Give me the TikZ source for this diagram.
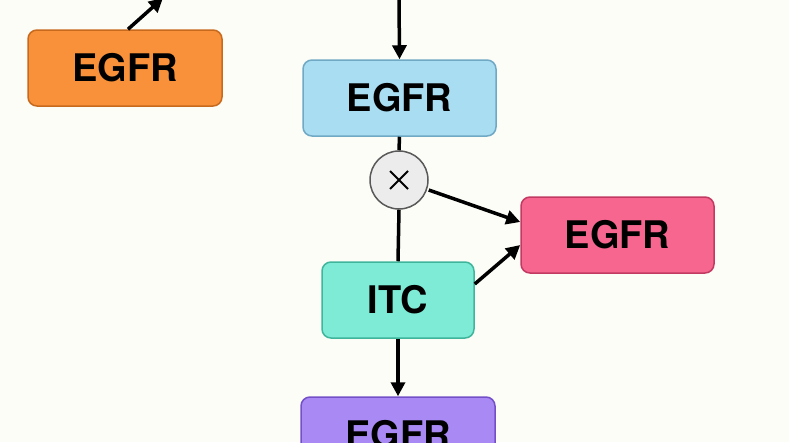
\documentclass[tikz,border=0pt]{standalone}
\usepackage{fontspec}
\setmainfont{TeX Gyre Heros}
\usetikzlibrary{arrows.meta}
\definecolor{bg}{HTML}{FDFDF8}
\definecolor{orf}{HTML}{F8913A}\definecolor{ord}{HTML}{C86A1E}
\definecolor{blf}{HTML}{A9DDF2}\definecolor{bld}{HTML}{6FA9C4}
\definecolor{grf}{HTML}{7EEBD6}\definecolor{grd}{HTML}{3FB59C}
\definecolor{pkf}{HTML}{F7668F}\definecolor{pkd}{HTML}{C23A62}
\definecolor{puf}{HTML}{A98AF5}\definecolor{pud}{HTML}{7350C8}
\begin{document}
\begin{tikzpicture}[x=1pt,y=-1pt,
 box/.style={rounded corners=9pt,line width=1.5pt,inner sep=0pt,font=\fontsize{38}{40}\selectfont\bfseries},
 arr/.style={line width=3.5pt,-{Triangle[length=14pt,width=14pt]}},
 ln/.style={line width=3.5pt}]
\fill[bg] (0,0) rectangle (789,442);
\useasboundingbox (0,0) rectangle (789,442);
\node[box,fill=orf,draw=ord,minimum width=194pt,minimum height=76pt] (o) at (125,68) {EGFR};
\node[box,fill=blf,draw=bld,minimum width=193pt,minimum height=76pt] (b) at (399.5,98) {EGFR};
\node[circle,fill=gray!15,draw=gray!70!black,line width=1.5pt,minimum size=58pt,inner sep=0pt] (x) at (399,180) {};
\draw[line width=2pt] ([shift={(-9,9)}]x.center) -- ([shift={(9,-9)}]x.center)
  ([shift={(-9,-9)}]x.center) -- ([shift={(9,9)}]x.center);
\node[box,fill=pkf,draw=pkd,minimum width=193pt,minimum height=76pt] (p) at (617.5,235) {EGFR};
\node[box,fill=grf,draw=grd,minimum width=152pt,minimum height=76pt] (i) at (398,300) {ITC};
\node[box,fill=puf,draw=pud,minimum width=194pt,minimum height=76pt] (u) at (398,435) {EGFR};
\coordinate (t1) at (163,-2);
\coordinate (t2) at (399,-2);
\draw[arr] (o.north)++(3,0) -- (t1);
\draw[arr] (t2) -- (b.north);
\draw[ln] (b.south) -- (x.north);
\draw[ln] (x.south) -- (i.north);
\draw[arr] (x.east)++(0,10) -- ([yshift=13pt]p.west);
\draw[arr] ([yshift=16pt]i.east) -- ([yshift=-10pt]p.west);
\draw[arr] (i.south) -- (u.north);
\end{tikzpicture}
\end{document}
